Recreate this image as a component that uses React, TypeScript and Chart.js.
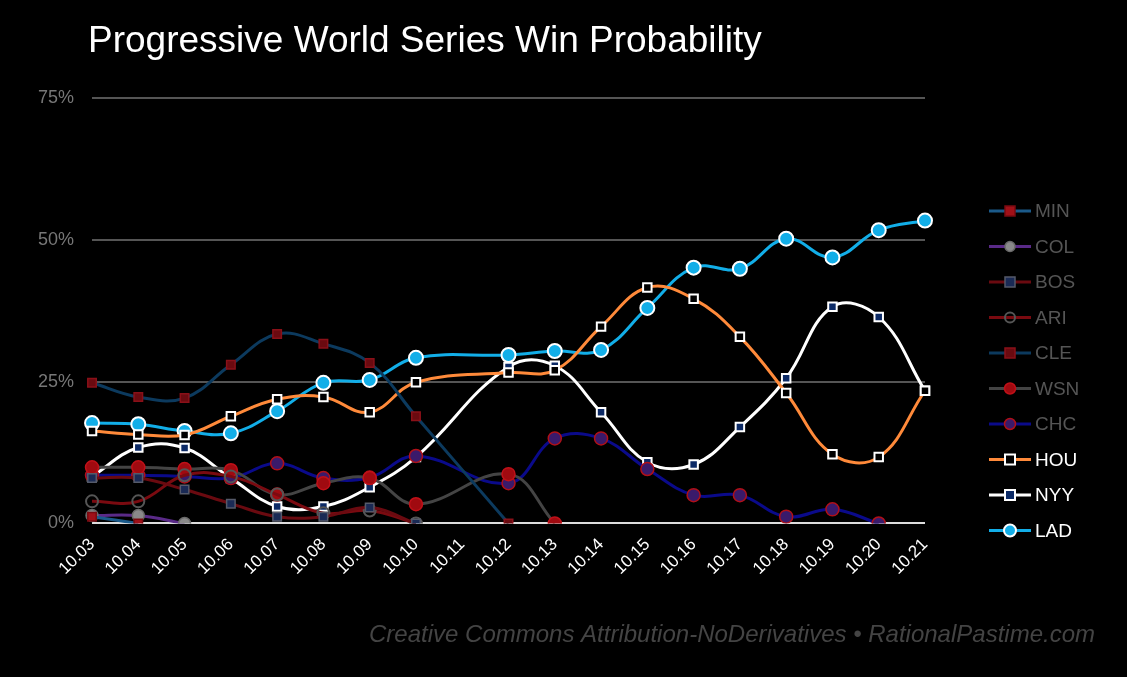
import React, { useEffect, useRef } from "react";
import { Chart, registerables } from "chart.js";
Chart.register(...registerables);

const labels = ["10.03","10.04","10.05","10.06","10.07","10.08","10.09","10.10","10.11","10.12","10.13","10.14","10.15","10.16","10.17","10.18","10.19","10.20","10.21"];
const N = null;
const MIN = [1.2, 0];
const COL = [1.4, 1.4, 0];
const BOS = [8.0, 8.0, 6.0, 3.5, 1.2, 1.2, 2.8, 0];
const ARI = [3.9, 3.9, 8.5, 8.3, 5.1, 1.8, 2.3, 0];
const CLE = [24.8, 22.3, 22.1, 28.0, 33.4, 31.7, 28.3, 18.9, N, 0];
const WSN = [9.9, 9.9, 9.6, 9.4, 5.1, 7.1, 8.0, 3.4, N, 8.7, 0];
const CHC = [8.5, 8.5, 8.3, 8.0, 10.6, 8.0, 8.1, 11.9, N, 7.1, 15.0, 15.0, 9.6, 5.0, 5.0, 1.2, 2.5, 0];
const HOU = [16.3, 15.7, 15.6, 18.9, 21.9, 22.3, 19.6, 24.9, N, 26.6, 27.0, 34.7, 41.6, 39.6, 32.9, 23.0, 12.2, 11.7, 23.4];
const NYY = [8.3, 13.4, 13.3, 8.0, 3.0, 3.0, 6.4, 11.7, N, 27.6, 27.8, 19.6, 10.8, 10.4, 17.0, 25.6, 38.2, 36.4, 23.4];
const LAD = [17.7, 17.5, 16.3, 15.9, 19.8, 24.8, 25.3, 29.2, N, 29.7, 30.4, 30.6, 38.0, 45.1, 44.9, 50.2, 46.9, 51.7, 53.4];
const yTicks = [0, 25, 50, 75];

type S = { name: string; data: (number|null)[]; line: string; style: string; fill: string; border: string; r: number; bw: number; active: boolean };
const series: S[] = [
  { name: "MIN", data: MIN, line: "#1b5a8a", style: "rect", fill: "#a01018", border: "#7a0a10", r: 6, bw: 1.5, active: false },
  { name: "COL", data: COL, line: "#5a2a88", style: "circle", fill: "#8a8a8a", border: "#6a6a6a", r: 6, bw: 1.5, active: false },
  { name: "BOS", data: BOS, line: "#6a0a10", style: "rect", fill: "#1a2a55", border: "#555a6a", r: 6, bw: 1.5, active: false },
  { name: "ARI", data: ARI, line: "#7a0a10", style: "circle", fill: "rgba(0,0,0,0)", border: "#555", r: 6, bw: 2, active: false },
  { name: "CLE", data: CLE, line: "#0c3a5e", style: "rect", fill: "#6a0a10", border: "#8a1018", r: 6, bw: 1.5, active: false },
  { name: "WSN", data: WSN, line: "#444444", style: "circle", fill: "#a00a10", border: "#c01018", r: 6.5, bw: 1.5, active: false },
  { name: "CHC", data: CHC, line: "#0a0a8a", style: "circle", fill: "#3a1a6a", border: "#b01018", r: 6.5, bw: 1.5, active: false },
  { name: "HOU", data: HOU, line: "#ff8a3a", style: "rect", fill: "#000000", border: "#ffffff", r: 6, bw: 2, active: true },
  { name: "NYY", data: NYY, line: "#ffffff", style: "rect", fill: "#0c2a66", border: "#ffffff", r: 6, bw: 2, active: true },
  { name: "LAD", data: LAD, line: "#12aee8", style: "circle", fill: "#12aee8", border: "#ffffff", r: 7, bw: 2, active: true },
];

export default function App() {
  const ref = useRef<HTMLCanvasElement>(null);
  useEffect(() => {
    const deco = {
      id: "deco",
      afterDraw(c: any) {
        const ctx = c.ctx;
        ctx.save();
        ctx.fillStyle = "#fff";
        ctx.font = "37px 'Liberation Sans', Arial, sans-serif";
        ctx.textBaseline = "middle";
        ctx.fillText("Progressive World Series Win Probability", 88, 42);
        ctx.fillStyle = "#444";
        ctx.font = "italic 24px 'Liberation Sans', Arial, sans-serif";
        ctx.textAlign = "right";
        ctx.fillText("Creative Commons Attribution-NoDerivatives \u2022 RationalPastime.com", 1095, 635);
        ctx.textAlign = "left";
        series.forEach((s, i) => {
          const y = 211 + i * 35.5;
          ctx.strokeStyle = s.line; ctx.lineWidth = 3;
          ctx.beginPath(); ctx.moveTo(989, y); ctx.lineTo(1031, y); ctx.stroke();
          ctx.fillStyle = s.fill; ctx.strokeStyle = s.border; ctx.lineWidth = s.bw;
          const r = s.r - 1;
          if (s.style === "rect") { ctx.fillRect(1010 - r, y - r, 2 * r, 2 * r); ctx.strokeRect(1010 - r, y - r, 2 * r, 2 * r); }
          else { ctx.beginPath(); ctx.arc(1010, y, r, 0, Math.PI * 2); ctx.fill(); ctx.stroke(); }
          ctx.fillStyle = s.active ? "#fff" : "#555";
          ctx.font = "19px 'Liberation Sans', Arial, sans-serif";
          ctx.fillText(s.name, 1035, y + 1);
        });
        ctx.restore();
      },
    };
    const chart = new Chart(ref.current!, {
      type: "line",
      data: {
        labels,
        datasets: series.map((s) => ({
          label: s.name, data: s.data, borderColor: s.line, borderWidth: 3,
          pointStyle: s.style as any, pointRadius: s.r, pointBackgroundColor: s.fill,
          pointBorderColor: s.border, pointBorderWidth: s.bw, tension: 0.4,
          spanGaps: true, fill: false,
        })),
      },
      options: {
        animation: false, responsive: false, maintainAspectRatio: false,
        layout: { padding: { top: 98, right: 202, left: 20, bottom: 95 } },
        plugins: { legend: { display: false }, tooltip: { enabled: false } },
        scales: {
          x: {
            grid: { display: false }, border: { display: false },
            ticks: { color: "#fff", font: { size: 17, family: "'Liberation Sans', Arial" }, maxRotation: 45, minRotation: 45, autoSkip: false },
          },
          y: {
            min: 0, max: 75, afterBuildTicks: (a: any) => { a.ticks = yTicks.map((v) => ({ value: v })); },
            grid: { color: (c: any) => (c.tick.value === 0 ? "#ddd" : "#555"), lineWidth: 2, drawTicks: false },
            border: { display: false },
            ticks: { color: "#777", padding: 18, font: { size: 18, family: "'Liberation Sans', Arial" }, callback: (v: any) => v + "%" },
          },
        },
      },
      plugins: [deco],
    });
    return () => chart.destroy();
  }, []);
  return (
    <div style={{ position: "fixed", left: 0, top: 0, width: 1127, height: 677, background: "#000" }}>
      <canvas ref={ref} width={1127} height={677} style={{ width: 1127, height: 677 }} />
    </div>
  );
}
